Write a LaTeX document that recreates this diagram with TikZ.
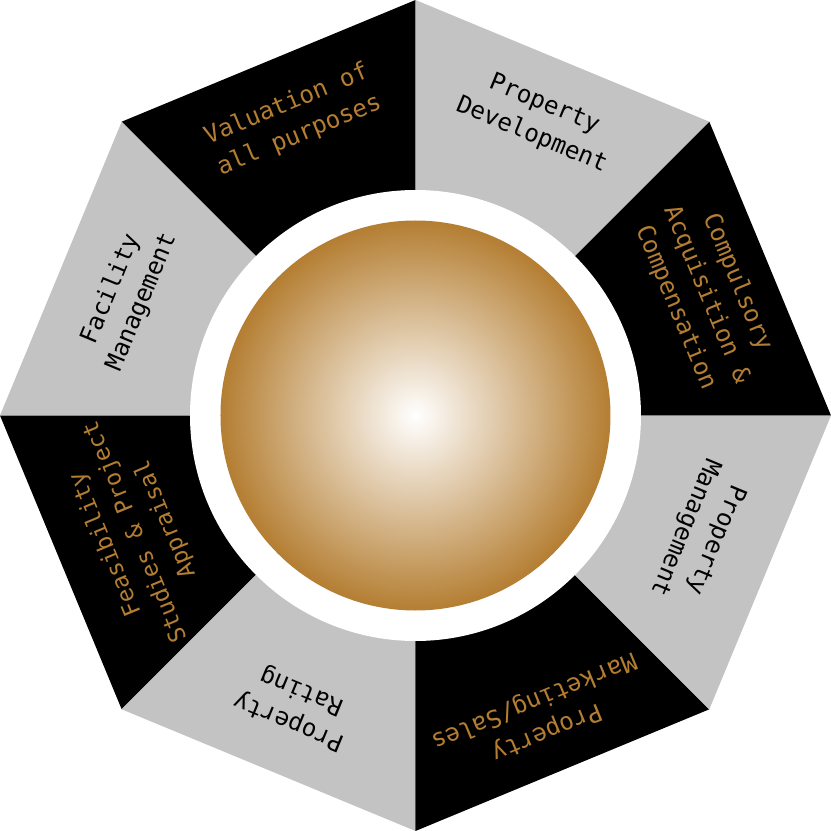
\documentclass[tikz,border=0pt]{standalone}
\usepackage{fontspec}
\setmonofont{DejaVu Sans Mono}

\definecolor{bronze}{RGB}{180,126,50}
\definecolor{seggray}{RGB}{195,195,195}

\begin{document}
\begin{tikzpicture}[
        seglabel/.style={font=\ttfamily\fontsize{6.9}{9.5}\selectfont, align=center, inner sep=0pt},
        darklabel/.style={seglabel, text=bronze},
        lightlabel/.style={seglabel, text=black},
        hubring/.style={circle, fill=white, inner sep=0pt, minimum size=4.51cm},
        hubball/.style={circle, inner color=white, outer color=bronze, inner sep=0pt, minimum size=3.9cm}
    ]
        \useasboundingbox (-4.155,-4.155) rectangle (4.155,4.155);

        % octagon segments
        \foreach \a/\c in {0/black, 45/seggray, 90/black, 135/seggray, 180/black, 225/seggray, 270/black, 315/seggray}
            \fill[\c] (0,0) -- (\a:4.155) -- (\a+45:4.155) -- cycle;

        \node [hubring] (ring) at (0,0) {};
        \node [hubball] (hub) at (0,0) {};

        \node [darklabel, rotate=-67.5] (compulsory) at (22.5:3.15) {Compulsory\\Acquisition \&\\Compensation};
        \node [lightlabel, rotate=-22.5] (development) at (67.5:3.2) {Property\\Development};
        \node [darklabel, rotate=22.5] (valuation) at (112.5:3.2) {Valuation of\\all purposes};
        \node [lightlabel, rotate=67.5] (facility) at (157.5:3.13) {Facility\\Management};
        \node [darklabel, rotate=112.5, font=\ttfamily\fontsize{6.6}{9.2}\selectfont] (feasibility) at (202.5:3.03) {Feasibility\\Studies \& Project\\Appraisal};
        \node [lightlabel, rotate=157.5] (rating) at (247.5:3.14) {Property\\Rating};
        \node [darklabel, rotate=202.5] (marketing) at (292.5:3.25) {Property\\Marketing/Sales};
        \node [lightlabel, rotate=247.5] (management) at (337.5:3.08) {Property\\Management};
    \end{tikzpicture}
\end{document}
